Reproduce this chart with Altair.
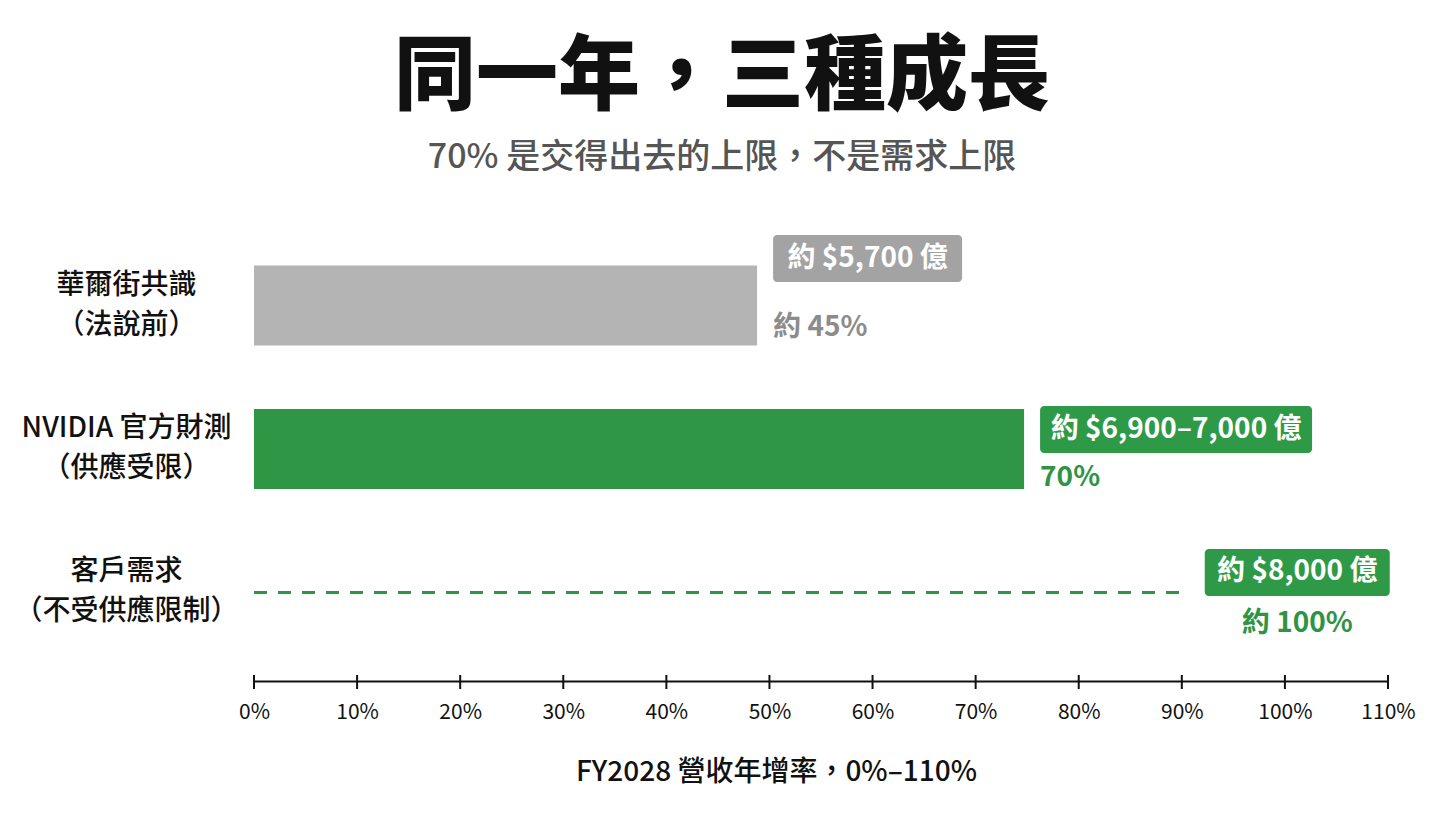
import altair as alt
import pandas as pd

FONT = "Noto Sans CJK TC"

# ---- data
rows = ["華爾街共識|（法說前）", "NVIDIA 官方財測|（供應受限）", "客戶需求|（不受供應限制）"]
growth = [48.8, 74.7, 89.8]          # where each bar / line ends on the axis
box_labels = ["約 $5,700 億", "約 $6,900–7,000 億", "約 $8,000 億"]
pct_labels = ["約 45%", "70%", "約 100%"]
tick_values = [0, 10, 20, 30, 40, 50, 60, 70, 80, 90, 100, 110]

GRAY_BAR, GRAY_BOX, GRAY_TXT = "#b4b4b4", "#a3a3a3", "#8c8c8c"
GREEN_BAR, GREEN_BOX, GREEN_TXT = "#2e9645", "#2e9a48", "#2e9444"

W, H = 1134, 464

df = pd.DataFrame({"row": rows, "growth": growth, "box": box_labels, "pct": pct_labels})
df["start"] = 0
ticks_df = pd.DataFrame({"tick": tick_values})

xscale = alt.Scale(domain=[0, 110], nice=False, zero=True)
xaxis = alt.Axis(
    values=tick_values, labelExpr="datum.value + '%'", grid=False, ticks=False,
    domainColor="#111", domainWidth=2, labelFontSize=21, labelColor="#111",
    labelPadding=31, labelBaseline="middle", labelFlush=False,
    titleFontSize=28, titleFontWeight=500, titleColor="#111",
    titleX=522, titleY=91, titleBaseline="middle", titleAlign="center",
)
XTITLE = "FY2028 營收年增率，0%–110%"


def xenc(field):
    return alt.X(field, type="quantitative", scale=xscale, axis=xaxis, title=XTITLE)


yenc = alt.Y(
    "row:N", sort=rows, title=None,
    scale=alt.Scale(paddingInner=0.4425, paddingOuter=0.338),
    axis=alt.Axis(
        domain=False, ticks=False, grid=False,
        labelExpr="split(datum.label, '|')", labelAlign="center", labelBaseline="middle",
        labelPadding=128, labelOffset=-20, labelFontSize=28, labelFontWeight=500,
        labelColor="#111", labelLineHeight=40, labelLimit=400,
    ),
)

base = alt.Chart(df).encode(y=yenc)

bars = base.transform_filter(alt.datum.row != rows[2]).mark_bar().encode(
    x=xenc("growth"),
    color=alt.Color("row:N", scale=alt.Scale(domain=rows[:2], range=[GRAY_BAR, GREEN_BAR]), legend=None),
)

dashed = base.transform_filter(alt.datum.row == rows[2]).mark_rule(
    color=GREEN_BAR, strokeWidth=3, strokeDash=[13, 11]
).encode(x=xenc("start"), x2="growth:Q")

tick_marks = alt.Chart(ticks_df).mark_rule(color="#111", strokeWidth=2).encode(
    x=xenc("tick"), y=alt.value(H - 6), y2=alt.value(H + 8)
)

# annotation layout per row: box gap from bar end, box width, box / pct vertical shift
box_gap = [16, 16, 25]
box_w = [189, 272, 185]
box_dy = [-47, -19.5, -20]
pct_dy = [22, 29, 31.5]
box_col = [GRAY_BOX, GREEN_BOX, GREEN_BOX]
pct_col = [GRAY_TXT, GREEN_TXT, GREEN_TXT]
pct_align = ["left", "left", "center"]

layers = [bars, dashed, tick_marks]
for i, r in enumerate(rows):
    one = base.transform_filter(alt.datum.row == r)
    layers.append(one.mark_bar(
        height=47, cornerRadius=4, color=box_col[i],
        xOffset=box_gap[i], x2Offset=box_gap[i] + box_w[i], yOffset=box_dy[i],
    ).encode(x=xenc("growth"), x2="growth:Q"))
    layers.append(one.mark_text(
        align="center", baseline="middle", font=FONT, fontSize=28, fontWeight="bold",
        color="white", dx=box_gap[i] + box_w[i] / 2, dy=box_dy[i],
    ).encode(x=xenc("growth"), text="box:N"))
    pdx = box_gap[i] + (box_w[i] / 2 if pct_align[i] == "center" else 0)
    layers.append(one.mark_text(
        align=pct_align[i], baseline="middle", font=FONT, fontSize=28, fontWeight="bold",
        color=pct_col[i], dx=pdx, dy=pct_dy[i],
    ).encode(x=xenc("growth"), text="pct:N"))

chart = alt.layer(*layers).properties(
    width=W, height=H,
    autosize=alt.AutoSizeParams(type="none"),
    padding={"left": 246, "top": 209, "right": 60, "bottom": 130},
    background="white",
    title=alt.TitleParams(
        text="同一年，三種成長", subtitle="70% 是交得出去的上限，不是需求上限",
        anchor="middle", dx=-99, offset=41,
        font=FONT, fontSize=82, fontWeight=900, color="#111",
        subtitleFont=FONT, subtitleFontSize=34, subtitleFontWeight=500,
        subtitleColor="#555", subtitlePadding=21,
    ),
).configure(font=FONT).configure_view(stroke=None)

chart.save("out.html", embed_options={"renderer": "svg", "actions": False})
